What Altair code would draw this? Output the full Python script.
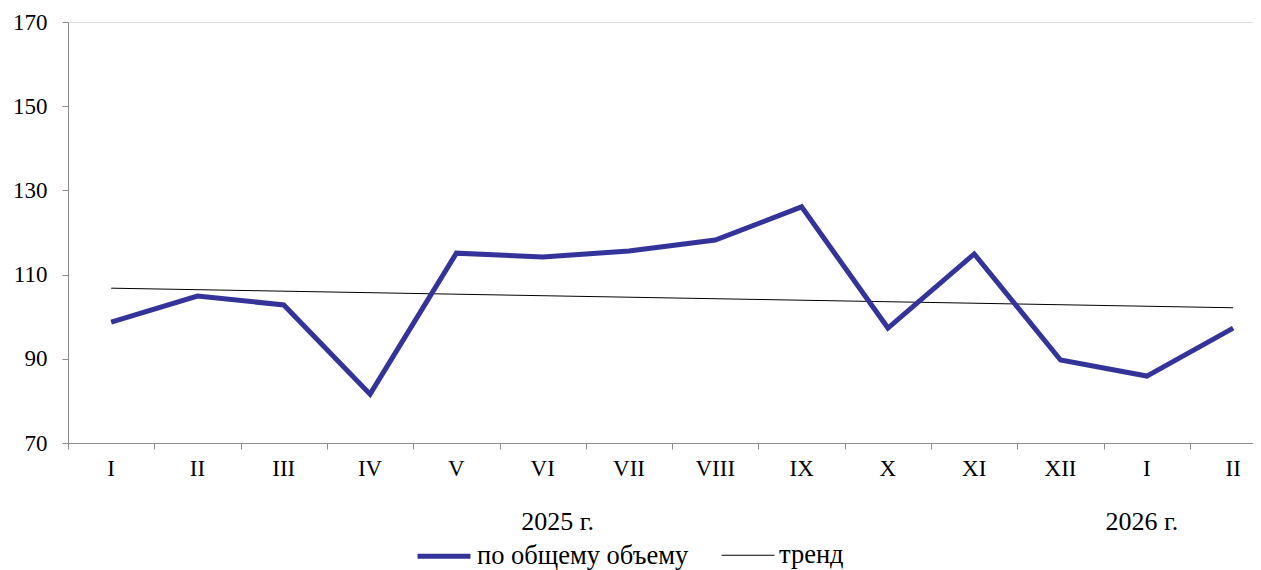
import altair as alt
import pandas as pd

# ---- data ----
months = ["I", "II", "III", "IV", "V", "VI", "VII", "VIII", "IX", "X", "XI", "XII", "I", "II"]
values = [98.7, 104.9, 102.8, 81.6, 115.1, 114.2, 115.6, 118.2, 126.1, 97.3, 114.9, 89.7, 85.9, 97.3]
series_names = ["по общему объему", "тренд"]
years = ["2025 г.", "2026 г."]
year_anchor = [5, 12]   # month index under which each year label sits
y_ticks = [70, 90, 110, 130, 150, 170]

FONT = "Liberation Serif"
FS = 23
FS_BIG = 26
AXIS_GREY = "#8c8c8c"
W, H = 1185, 421

idx = list(range(len(months)))
df = pd.DataFrame({"idx": idx, "month": months, "value": values, "series": series_names[0]})
df_years = pd.DataFrame({"label": years, "idx": year_anchor})

xscale = alt.Scale(domain=[-0.5, 13.23], nice=False, zero=False)
yscale = alt.Scale(domain=[70, 170], nice=False, zero=False)

x_axis = alt.Axis(values=[i - 0.5 for i in idx], labels=False, title=None, grid=False,
                  tickSize=6, tickColor=AXIS_GREY, domainColor=AXIS_GREY)
y_axis = alt.Axis(values=y_ticks, title=None, grid=False, tickSize=6, labelPadding=15,
                  tickColor=AXIS_GREY, domainColor=AXIS_GREY,
                  labelFont=FONT, labelFontSize=FS, labelColor="black")

leg = alt.Legend(title=None, orient="none", legendX=347, legendY=505, direction="horizontal",
                 symbolType="stroke", symbolSize=2800, labelFont=FONT, labelFontSize=26.5,
                 labelColor="black", labelOffset=4, columnPadding=30, padding=0,
                 labelLimit=400)
color = alt.Color("series:N", scale=alt.Scale(domain=series_names, range=["#333399", "#000000"]), legend=leg)
swidth = alt.StrokeWidth("series:N", scale=alt.Scale(domain=series_names, range=[5, 1]), legend=leg)

base = alt.Chart(df)

line = base.mark_line().encode(
    x=alt.X("idx:Q", scale=xscale, axis=x_axis),
    y=alt.Y("value:Q", scale=yscale, axis=y_axis),
    color=color,
    strokeWidth=swidth,
)

trend = base.transform_regression("idx", "value").transform_calculate(
    series="'тренд'"
).mark_line().encode(
    x=alt.X("idx:Q", scale=xscale),
    y=alt.Y("value:Q", scale=yscale),
    color=color,
    strokeWidth=swidth,
)

month_labels = base.mark_text(font=FONT, fontSize=FS, color="black", baseline="middle").encode(
    x=alt.X("idx:Q", scale=xscale),
    y=alt.value(447),
    text="month:N",
)

year1 = alt.Chart(df_years).transform_filter(alt.datum.label == years[0]).mark_text(
    font=FONT, fontSize=FS_BIG, color="black", baseline="middle", dx=15
).encode(x=alt.X("idx:Q", scale=xscale), y=alt.value(500), text="label:N")

year2 = alt.Chart(df_years).transform_filter(alt.datum.label == years[1]).mark_text(
    font=FONT, fontSize=FS_BIG, color="black", baseline="middle", dx=-5
).encode(x=alt.X("idx:Q", scale=xscale), y=alt.value(500), text="label:N")

chart = alt.layer(trend, line, month_labels, year1, year2).properties(
    width=W, height=H,
    autosize=alt.AutoSizeParams(type="none"),
    padding={"left": 60, "top": 14, "right": 0, "bottom": 127},
).configure_view(stroke=None).configure(background="white")

chart.save("out.html", embed_options={"renderer": "svg", "actions": False})
